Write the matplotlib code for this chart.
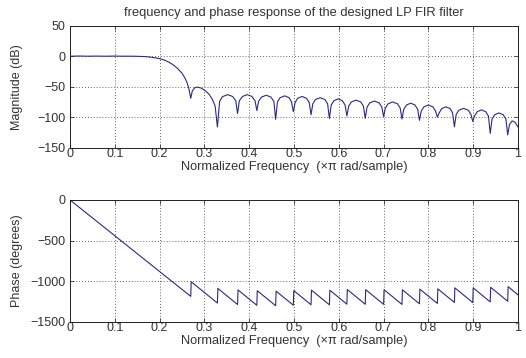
"""
Frequency and phase response of an LP FIR filter (freqz-style figure)
"""
import matplotlib
matplotlib.use("Agg")
import matplotlib.pyplot as plt

plt.rcParams['font.family'] = ['Liberation Sans', 'DejaVu Sans']
plt.rcParams['font.size'] = 8

# magnitude response (normalized freq, dB)
mag_freq = [
    0.000, 0.020, 0.040, 0.060, 0.080, 0.100, 0.120, 0.140, 0.160, 0.170,
    0.180, 0.190, 0.200, 0.210, 0.220, 0.230, 0.240, 0.250, 0.256, 0.261,
    0.265, 0.2695, 0.273, 0.278, 0.284, 0.292, 0.301, 0.310, 0.318, 0.324,
    0.329, 0.334, 0.340, 0.3515, 0.363, 0.370,
    0.374, 0.378, 0.385, 0.3955, 0.406, 0.413,
    0.417, 0.421, 0.4275, 0.438, 0.4485, 0.455,
    0.459, 0.463, 0.469, 0.479, 0.489, 0.4945,
    0.4985, 0.5025, 0.508, 0.518, 0.528, 0.534,
    0.538, 0.542, 0.548, 0.5585, 0.569, 0.575,
    0.579, 0.583, 0.589, 0.5985, 0.608, 0.614,
    0.618, 0.622, 0.628, 0.6385, 0.649, 0.655,
    0.659, 0.663, 0.669, 0.6795, 0.690, 0.696,
    0.700, 0.704, 0.710, 0.7205, 0.731, 0.737,
    0.741, 0.745, 0.751, 0.7605, 0.770, 0.776,
    0.780, 0.784, 0.790, 0.800, 0.810, 0.816,
    0.820, 0.824, 0.8295, 0.839, 0.8485, 0.854,
    0.858, 0.862, 0.868, 0.8785, 0.889, 0.895,
    0.899, 0.903, 0.909, 0.9185, 0.928, 0.934,
    0.938, 0.942, 0.948, 0.9575, 0.967, 0.973,
    0.977, 0.981, 0.987, 0.993, 1.000,
]
mag_db = [
    0.0, 0.3, 0.0, 0.2, 0.0, 0.2, 0.0, 0.0, -0.4, -0.8,
    -1.5, -2.6, -4.0, -6.2, -9.5, -14.0, -20.0, -28.0, -35.0, -43.0,
    -52.0, -69.0, -57.0, -52.0, -50.5, -52.0, -56.0, -62.0, -71.0, -82.0,
    -116.0, -74.0, -66.5, -63.0, -66.0, -73.0,
    -94.0, -73.0, -66.0, -63.0, -66.0, -73.0,
    -89.0, -74.0, -67.0, -64.0, -67.0, -74.0,
    -103.5, -75.0, -68.0, -65.0, -68.0, -75.0,
    -91.0, -76.0, -69.0, -66.0, -69.0, -76.0,
    -96.0, -78.0, -71.0, -68.0, -71.0, -78.0,
    -102.0, -80.0, -73.0, -70.0, -73.0, -80.0,
    -98.0, -82.0, -75.0, -72.0, -75.0, -82.0,
    -102.0, -83.5, -76.5, -73.5, -76.5, -83.5,
    -99.0, -85.0, -78.0, -75.0, -78.0, -85.0,
    -103.0, -87.0, -80.0, -77.0, -80.0, -87.0,
    -105.0, -90.0, -83.0, -80.0, -83.0, -90.0,
    -100.0, -93.0, -86.0, -83.0, -86.0, -93.0,
    -115.5, -95.5, -88.5, -85.5, -88.5, -95.5,
    -107.0, -98.0, -91.0, -88.0, -91.0, -98.0,
    -126.5, -103.0, -96.0, -93.0, -96.0, -103.0,
    -129.0, -112.0, -106.0, -108.0, -116.0,
]

# phase response vertices (wraps by +180 deg at each stopband null)
phase_freq = [
    0.000, 0.2695, 0.2705, 0.329, 0.330, 0.374, 0.375, 0.417, 0.418,
    0.459, 0.460, 0.4985, 0.4995, 0.538, 0.539, 0.579, 0.580, 0.618, 0.619,
    0.659, 0.660, 0.700, 0.701, 0.741, 0.742, 0.780, 0.781, 0.820, 0.821,
    0.858, 0.859, 0.899, 0.900, 0.938, 0.939, 0.977, 0.978, 1.000,
]
phase_deg = [
    0, -1188, -1008, -1270, -1090, -1288, -1108, -1298, -1118,
    -1303, -1123, -1297, -1117, -1291, -1111, -1292, -1112, -1284, -1104,
    -1285, -1105, -1286, -1106, -1287, -1107, -1279, -1099, -1275, -1095,
    -1263, -1083, -1264, -1084, -1256, -1076, -1248, -1068, -1169,
]

mag_ticks = [-150, -100, -50, 0, 50]
phase_ticks = [-1500, -1000, -500, 0]
freq_ticks = [0, 0.1, 0.2, 0.3, 0.4, 0.5, 0.6, 0.7, 0.8, 0.9, 1]
freq_labels = ['0', '0.1', '0.2', '0.3', '0.4', '0.5', '0.6', '0.7', '0.8', '0.9', '1']

line_color = '#2a2a85'
text_color = '#333333'
xlabel_text = 'Normalized Frequency  (\u00d7\u03c0 rad/sample)'


def style_axes(ax, yticks, ylabel):
    ax.set_xlim(0, 1)
    ax.set_ylim(yticks[0], yticks[-1])
    ax.set_xticks(freq_ticks)
    ax.set_xticklabels(freq_labels)
    ax.set_yticks(yticks)
    ax.tick_params(direction='in', top=True, right=True, length=3,
                   width=0.6, pad=3, labelsize=9, colors=text_color)
    ax.tick_params(axis='x', pad=0.5)
    ax.grid(True, linestyle=(0, (1, 2.5)), color='#333333', linewidth=0.6)
    for sp in ax.spines.values():
        sp.set_linewidth(0.7)
        sp.set_color('#222222')
    ax.set_xlabel(xlabel_text, fontsize=9.2, color=text_color)
    ax.set_ylabel(ylabel, fontsize=9, color=text_color)
    ax.xaxis.set_label_coords(0.5, -0.11)
    ax.yaxis.set_label_coords(-0.105, 0.5)


fig = plt.figure(figsize=(5.26, 3.58), dpi=100)
ax1 = fig.add_axes([0.1331, 0.5874, 0.8517, 0.3408])
ax2 = fig.add_axes([0.1331, 0.1014, 0.8517, 0.3400])

ax1.plot(mag_freq, mag_db, color=line_color, linewidth=0.8)
style_axes(ax1, mag_ticks, 'Magnitude (dB)')
ax1.set_title('frequency and phase response of the designed LP FIR filter',
              fontsize=9.3, pad=7, color=text_color)

ax2.plot(phase_freq, phase_deg, color=line_color, linewidth=0.8)
style_axes(ax2, phase_ticks, 'Phase (degrees)')

fig.savefig('out.png', dpi=100)
plt.close(fig)
